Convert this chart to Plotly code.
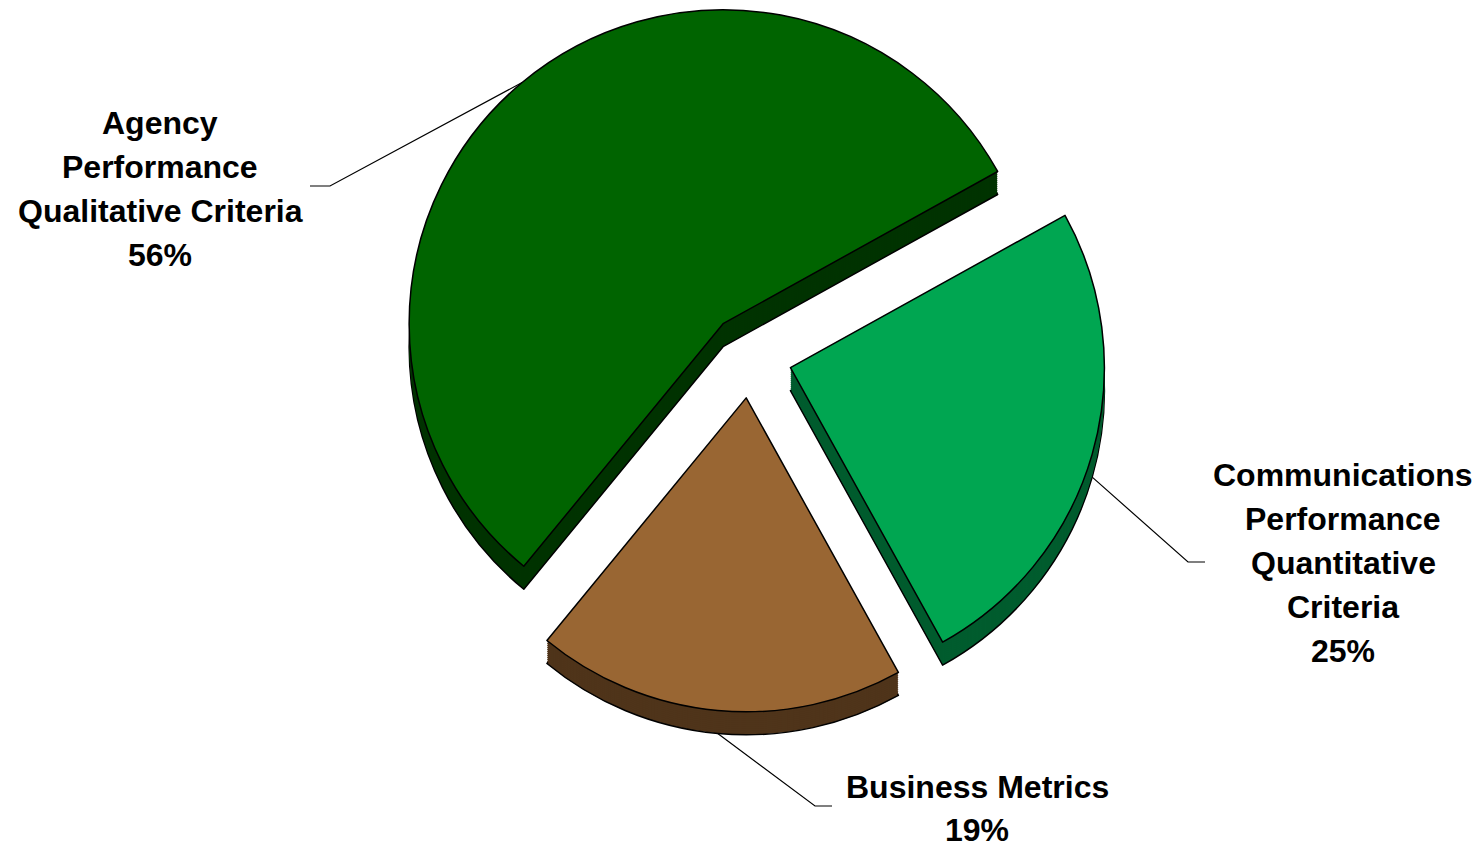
import math
import plotly.graph_objects as go

# ---- data -------------------------------------------------------------
categories = [
    "Communications Performance Quantitative Criteria",
    "Business Metrics",
    "Agency Performance Qualitative Criteria",
]
values = [25, 19, 56]
label_lines = [
    ["Communications", "Performance", "Quantitative", "Criteria"],
    ["Business Metrics"],
    ["Agency", "Performance", "Qualitative Criteria"],
]

# ---- styling ----------------------------------------------------------
top_colors = ["#00A651", "#996633", "#006400"]
side_colors = ["#005C2E", "#4F341A", "#003300"]

W, H = 1484, 848
CX, CY = 750, 356          # pie centre, pixels from top-left
BOX_H = 2 * CY             # pie box touches the top of the page
PULL = 0.134               # every slice is exploded
R = BOX_H / (2 * (1 + PULL))
DEPTH = 23                 # thickness of the extruded side, pixels
ROT = 61                   # first slice starts here, clockwise from 12 o'clock
FONT = dict(family="Liberation Sans, Arial, sans-serif", size=32, color="black")

# label placement: text centre x, line baselines (middle), leader elbow and end
label_pos = [
    dict(x=1343, ys=[475, 519, 563, 607, 651], elbow=(1188, 562), end=(1205, 562)),
    dict(x=977, ys=[787, 830], elbow=(815, 806), end=(832, 806)),
    dict(x=160, ys=[123, 167, 211, 255], elbow=(330, 186), end=(310, 186)),
]

x_mid = CX / W
x_dom = [x_mid - 0.3, x_mid + 0.3]
y_top = 1.0
y_bot = 1.0 - BOX_H / H


def pie_layer(shift_px, colors, line_w):
    dy = shift_px / H
    return go.Pie(
        labels=categories,
        values=values,
        sort=False,
        direction="clockwise",
        rotation=ROT,
        pull=PULL,
        marker=dict(colors=colors, line=dict(color="black", width=line_w)),
        textinfo="none",
        hoverinfo="skip",
        showlegend=False,
        domain=dict(x=x_dom, y=[y_bot - dy, y_top - dy]),
    )


fig = go.Figure()

# extruded side: stacked copies shifted downward, deepest first
for k in range(DEPTH, 0, -2):
    fig.add_trace(pie_layer(k, side_colors, 1.5 if k == DEPTH else 0))
# top face
fig.add_trace(pie_layer(0, top_colors, 1.5))

# leader lines from each slice's mid-angle on the rim to its label
total = sum(values)
start = ROT
for v, lines, pos in zip(values, label_lines, label_pos):
    span = v / total * 360
    mid = math.radians(start + span / 2)
    start += span
    ux, uy = math.sin(mid), -math.cos(mid)
    vx = CX + PULL * R * ux
    vy = CY + PULL * R * uy
    ax = vx + R * ux
    ay = vy + R * uy + (DEPTH if uy > 0 else 0)
    fig.add_trace(go.Scatter(
        x=[ax, pos["elbow"][0], pos["end"][0]],
        y=[ay, pos["elbow"][1], pos["end"][1]],
        mode="lines",
        line=dict(color="black", width=1.2),
        hoverinfo="skip",
        showlegend=False,
    ))
    texts = lines + [f"{round(v / total * 100)}%"]
    for t, y in zip(texts, pos["ys"]):
        fig.add_annotation(
            x=pos["x"], y=y, xref="x", yref="y", text=f"<b>{t}</b>",
            showarrow=False, font=FONT, xanchor="center", yanchor="middle",
        )

fig.update_layout(
    width=W,
    height=H,
    margin=dict(l=0, r=0, t=0, b=0),
    paper_bgcolor="white",
    plot_bgcolor="white",
    xaxis=dict(range=[0, W], visible=False, domain=[0, 1], fixedrange=True),
    yaxis=dict(range=[H, 0], visible=False, domain=[0, 1], fixedrange=True),
)

fig.write_html("out.html")
